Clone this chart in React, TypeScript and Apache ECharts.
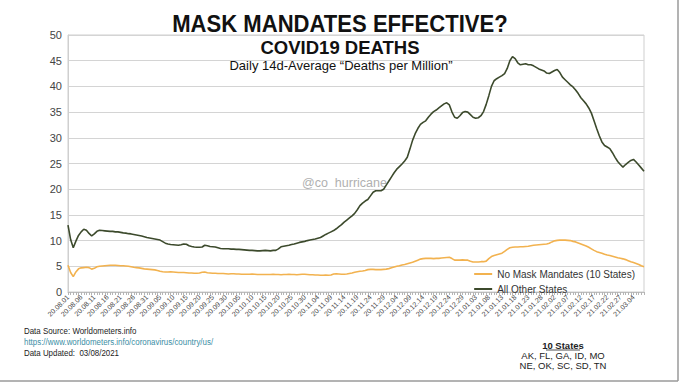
import React, { useEffect, useRef } from "react";
import * as echarts from "echarts";

const START_DATE = "2020-08-01";
const LABEL_EVERY = 5;

// All Other States – daily 14d-average deaths per million
const otherStates = [
  13.0, 10.2, 8.6, 9.9, 11.0, 11.7, 12.2, 12.0, 11.4, 10.9,
  11.3, 11.8, 12.0, 11.95, 11.9, 11.85, 11.8, 11.8, 11.7, 11.7,
  11.6, 11.5, 11.45, 11.35, 11.3, 11.2, 11.1, 11.0, 10.9, 10.75,
  10.6, 10.5, 10.4, 10.3, 10.2, 10.1, 9.8, 9.5, 9.35, 9.25,
  9.2, 9.15, 9.1, 9.2, 9.35, 9.3, 9.0, 8.85, 8.75, 8.7,
  8.7, 8.75, 9.1, 9.0, 8.85, 8.8, 8.75, 8.6, 8.45, 8.4,
  8.4, 8.4, 8.35, 8.35, 8.3, 8.3, 8.25, 8.2, 8.15, 8.1,
  8.1, 8.05, 8.0, 8.0, 8.05, 8.1, 8.05, 8.0, 8.1, 8.1,
  8.4, 8.8, 8.9, 9.0, 9.1, 9.25, 9.35, 9.5, 9.65, 9.75,
  9.85, 10.0, 10.1, 10.2, 10.3, 10.45, 10.6, 10.9, 11.2, 11.45,
  11.7, 11.95, 12.3, 12.7, 13.1, 13.6, 14.0, 14.4, 14.8, 15.3,
  16.0, 16.8, 17.3, 17.7, 18.0, 18.7, 19.4, 19.7, 19.7, 19.7,
  20.0, 20.8, 21.6, 22.4, 23.2, 23.9, 24.4, 24.9, 25.5, 26.2,
  27.8, 29.5, 30.8, 31.8, 32.6, 33.0, 33.3, 34.0, 34.6, 35.1,
  35.4, 35.8, 36.2, 36.6, 36.8, 36.4, 35.0, 34.0, 33.8, 34.3,
  34.9, 35.1, 35.0, 34.5, 34.0, 33.8, 33.9, 34.3, 35.1, 36.5,
  38.2, 40.0, 41.1, 41.5, 41.8, 42.1, 42.5, 43.5, 45.0, 45.8,
  45.4, 44.6, 44.2, 44.3, 44.4, 44.2, 44.2, 44.0, 43.7, 43.4,
  43.2, 43.0, 42.6, 42.5, 42.8, 43.1, 43.3, 42.7, 41.8, 41.3,
  40.8, 40.3, 39.9, 39.3, 38.6, 37.8, 37.2, 36.6, 35.8, 34.8,
  33.3, 31.8, 30.4, 29.2, 28.5, 28.2, 27.9, 27.1, 26.2, 25.4,
  24.8, 24.3, 24.8, 25.2, 25.6, 25.8, 25.3, 24.7, 24.1, 23.5,
];

// No Mask Mandates (10 States)
const noMaskStates = [
  5.2, 3.8, 3.0, 3.9, 4.5, 4.7, 4.75, 4.8, 4.75, 4.45,
  4.6, 4.9, 5.0, 5.05, 5.1, 5.15, 5.2, 5.2, 5.2, 5.15,
  5.1, 5.1, 5.05, 5.0, 4.9, 4.8, 4.75, 4.7, 4.6, 4.5,
  4.45, 4.4, 4.35, 4.3, 4.2, 4.05, 3.95, 3.9, 3.9, 3.95,
  3.9, 3.85, 3.8, 3.8, 3.8, 3.75, 3.7, 3.7, 3.65, 3.65,
  3.7, 3.85, 3.9, 3.75, 3.7, 3.65, 3.65, 3.6, 3.6, 3.6,
  3.55, 3.5, 3.55, 3.55, 3.5, 3.5, 3.45, 3.45, 3.45, 3.45,
  3.5, 3.45, 3.4, 3.4, 3.4, 3.4, 3.4, 3.4, 3.45, 3.4,
  3.4, 3.35, 3.4, 3.4, 3.45, 3.4, 3.4, 3.35, 3.4, 3.45,
  3.45, 3.4, 3.35, 3.35, 3.3, 3.3, 3.25, 3.25, 3.3, 3.25,
  3.3, 3.5, 3.55, 3.5, 3.45, 3.45, 3.5, 3.6, 3.7, 3.85,
  3.95, 4.05, 4.1, 4.2, 4.35, 4.4, 4.4, 4.35, 4.35, 4.35,
  4.4, 4.45, 4.55, 4.7, 4.85, 5.0, 5.1, 5.25, 5.35, 5.5,
  5.65, 5.8, 6.0, 6.2, 6.4, 6.5, 6.55, 6.55, 6.55, 6.5,
  6.55, 6.55, 6.6, 6.65, 6.7, 6.75, 6.5, 6.2, 6.2, 6.2,
  6.25, 6.2, 6.2, 6.0, 5.85, 5.85, 5.85, 5.9, 5.9, 6.0,
  6.5, 6.9, 7.1, 7.25, 7.4, 7.55, 7.9, 8.3, 8.6, 8.7,
  8.75, 8.75, 8.8, 8.8, 8.85, 8.9, 9.0, 9.1, 9.15, 9.2,
  9.25, 9.3, 9.35, 9.5, 9.75, 9.95, 10.05, 10.1, 10.1, 10.1,
  10.05, 10.0, 9.85, 9.75, 9.55, 9.35, 9.15, 8.95, 8.7, 8.4,
  8.1, 7.85, 7.7, 7.55, 7.35, 7.2, 7.1, 6.95, 6.8, 6.65,
  6.55, 6.45, 6.3, 6.1, 5.9, 5.75, 5.55, 5.35, 5.1, 4.9,
];

const seriesNames = ["No Mask Mandates (10 States)", "All Other States"];
const yTicks = { min: 0, max: 50, interval: 5 };

const titleMain = "MASK MANDATES EFFECTIVE?";
const titleSub = "COVID19 DEATHS";
const titleSub2 = "Daily 14d-Average \u201cDeaths per Million\u201d";
const watermark = "@co_hurricane";
const sourceLines = [
  "Data Source: Worldometers.info",
  "https://www.worldometers.info/coronavirus/country/us/",
  "Data Updated:  03/08/2021",
];
const statesHeader = "10 States";
const statesLines = ["AK, FL, GA, ID, MO", "NE, OK, SC, SD, TN"];

function buildDates(start: string, n: number): string[] {
  const [y, m, d] = start.split("-").map(Number);
  const out: string[] = [];
  for (let i = 0; i < n; i++) {
    const dt = new Date(Date.UTC(y, m - 1, d + i));
    const yy = String(dt.getUTCFullYear()).slice(2);
    const mm = String(dt.getUTCMonth() + 1).padStart(2, "0");
    const dd = String(dt.getUTCDate()).padStart(2, "0");
    out.push(`${yy}.${mm}.${dd}`);
  }
  return out;
}

const FONT = "'Liberation Sans', Arial, sans-serif";

export default function App() {
  const ref = useRef<HTMLDivElement>(null);
  useEffect(() => {
    if (!ref.current) return;
    const chart = echarts.init(ref.current, null, { renderer: "svg" });
    const dates = buildDates(START_DATE, otherStates.length);
    chart.setOption({
      animation: false,
      backgroundColor: "#ffffff",
      textStyle: { fontFamily: FONT },
      grid: {
        left: 68,
        right: 36,
        top: 35,
        bottom: 91,
        show: true,
        borderColor: "#cfcfcf",
        borderWidth: 1,
      },
      legend: {
        orient: "vertical",
        right: 40,
        top: 264,
        icon: "rect",
        itemWidth: 18,
        itemHeight: 2,
        itemGap: 5,
        textStyle: { fontFamily: FONT, fontSize: 10, color: "#333" },
        data: [seriesNames[0], seriesNames[1]],
      },
      xAxis: {
        type: "category",
        data: dates,
        boundaryGap: false,
        axisLine: { lineStyle: { color: "#bdbdbd" } },
        axisTick: { show: true, interval: 0, length: 3, lineStyle: { color: "#b5b5b5" } },
        axisLabel: {
          interval: LABEL_EVERY - 1,
          rotate: 45,
          fontSize: 7,
          color: "#444",
          margin: 4,
          fontFamily: FONT,
        },
        splitLine: { show: false },
      },
      yAxis: {
        type: "value",
        min: yTicks.min,
        max: yTicks.max,
        interval: yTicks.interval,
        axisLine: { show: true, lineStyle: { color: "#cfcfcf" } },
        axisTick: { show: false },
        axisLabel: { fontSize: 11, color: "#444", margin: 6, fontFamily: FONT },
        splitLine: { lineStyle: { color: "#d4d4d4", width: 1 } },
      },
      series: [
        {
          name: seriesNames[0],
          type: "line",
          data: noMaskStates,
          symbol: "none",
          lineStyle: { color: "#f2b24f", width: 1.6 },
          itemStyle: { color: "#f2b24f" },
          z: 3,
        },
        {
          name: seriesNames[1],
          type: "line",
          data: otherStates,
          symbol: "none",
          lineStyle: { color: "#3c4a2c", width: 1.6 },
          itemStyle: { color: "#3c4a2c" },
          z: 4,
        },
      ],
      graphic: [
        {
          type: "text",
          x: 340,
          y: 12,
          scaleX: 0.92,
          z: 10,
          style: {
            text: titleMain,
            fontFamily: FONT,
            fontSize: 24,
            fontWeight: "bold",
            fill: "#111",
            align: "center",
            verticalAlign: "top",
          },
        },
        {
          type: "text",
          x: 340,
          y: 38,
          z: 10,
          style: {
            text: titleSub,
            fontFamily: FONT,
            fontSize: 18.5,
            fontWeight: "bold",
            fill: "#111",
            align: "center",
            verticalAlign: "top",
          },
        },
        {
          type: "text",
          x: 341,
          y: 59,
          z: 10,
          style: {
            text: titleSub2,
            fontFamily: FONT,
            fontSize: 13,
            fill: "#111",
            align: "center",
            verticalAlign: "top",
          },
        },
        {
          type: "text",
          left: 302,
          top: 176,
          style: { text: watermark, fontFamily: FONT, fontSize: 12.5, fill: "#b0b0b0" },
        },
        {
          type: "text",
          x: 24,
          y: 326,
          scaleX: 0.88,
          style: { text: sourceLines[0], fontFamily: FONT, fontSize: 9, fill: "#222" },
        },
        {
          type: "text",
          x: 24,
          y: 337,
          scaleX: 0.88,
          style: { text: sourceLines[1], fontFamily: FONT, fontSize: 9, fill: "#3b8ea5" },
        },
        {
          type: "text",
          x: 24,
          y: 348,
          scaleX: 0.88,
          style: { text: sourceLines[2], fontFamily: FONT, fontSize: 9, fill: "#222" },
        },
        {
          type: "text",
          x: 563,
          y: 340,
          style: {
            text: statesHeader,
            fontFamily: FONT,
            fontSize: 9.5,
            fontWeight: "bold",
            fill: "#222",
            align: "center",
          },
        },
        {
          type: "line",
          shape: { x1: 546, y1: 350, x2: 580, y2: 350 },
          style: { stroke: "#222", lineWidth: 0.8 },
        },
        {
          type: "text",
          x: 563,
          y: 350,
          style: { text: statesLines[0], fontFamily: FONT, fontSize: 9.5, fill: "#222", align: "center" },
        },
        {
          type: "text",
          x: 563,
          y: 360,
          style: { text: statesLines[1], fontFamily: FONT, fontSize: 9.5, fill: "#222", align: "center" },
        },
        {
          type: "line",
          shape: { x1: 678, y1: 0, x2: 678, y2: 381 },
          style: { stroke: "#9a9a9a", lineWidth: 1.5 },
        },
        {
          type: "line",
          shape: { x1: 0, y1: 381, x2: 678, y2: 381 },
          style: { stroke: "#9a9a9a", lineWidth: 1.5 },
        },
      ],
    });
    return () => chart.dispose();
  }, []);
  return (
    <div
      ref={ref}
      style={{ position: "fixed", left: 0, top: 0, width: 680, height: 383 }}
    />
  );
}
